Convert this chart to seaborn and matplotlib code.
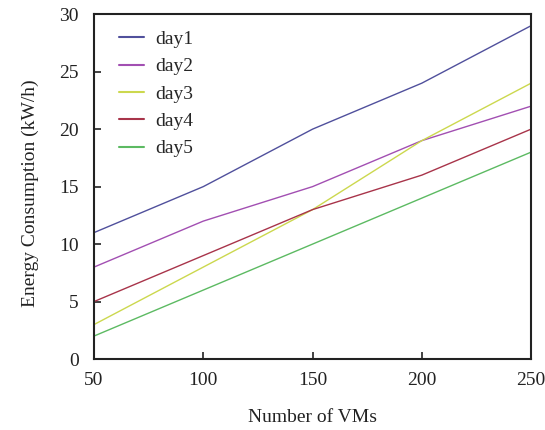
import matplotlib
matplotlib.use("Agg")
import matplotlib.pyplot as plt
import seaborn as sns
import pandas as pd

vms = [50, 100, 150, 200, 250]
day1 = [11, 15, 20, 24, 29]
day2 = [8, 12, 15, 19, 22]
day3 = [3, 8, 13, 19, 24]
day4 = [5, 9, 13, 16, 20]
day5 = [2, 6, 10, 14, 18]
series_names = ["day1", "day2", "day3", "day4", "day5"]
colors = ["#50509c", "#a24fb2", "#ccd84e", "#a8344a", "#5cba62"]

rows = []
for name, vals in zip(series_names, [day1, day2, day3, day4, day5]):
    for x, y in zip(vms, vals):
        rows.append({"VMs": x, "Energy": y, "day": name})
df = pd.DataFrame(rows)

sns.set_style("ticks")
plt.rcParams["font.family"] = ["Liberation Serif", "DejaVu Serif"]

fig = plt.figure(figsize=(5.45, 4.3), dpi=100)
ax = fig.add_axes([0.1725, 0.165, 0.802, 0.802])
sns.lineplot(data=df, x="VMs", y="Energy", hue="day", palette=colors,
             linewidth=1.0, ax=ax)

ax.set_xlim(50, 250)
ax.set_ylim(0, 30)
ax.set_xticks([50, 100, 150, 200, 250])
ax.set_yticks([0, 5, 10, 15, 20, 25, 30])
ax.tick_params(direction="in", length=5, width=1.2, labelsize=14,
               colors="#222222", labelcolor="#222222")
ax.tick_params(axis="y", pad=11)
ax.tick_params(axis="x", pad=9)
for s in ax.spines.values():
    s.set_linewidth(1.5)
    s.set_color("#222222")
ax.set_xlabel("Number of VMs", fontsize=14, color="#222222")
ax.set_ylabel("Energy Consumption (kW/h)", fontsize=14, color="#222222")
ax.xaxis.set_label_coords(0.5, -0.145)
ax.yaxis.set_label_coords(-0.126, 0.48)

leg = ax.legend(loc="upper left", frameon=False, fontsize=14,
                handlelength=1.3, handletextpad=0.55, labelspacing=0.5,
                borderpad=0, borderaxespad=0, bbox_to_anchor=(0.057, 0.953))
for line in leg.get_lines():
    line.set_linewidth(1.5)

fig.savefig("out.png", dpi=100)
